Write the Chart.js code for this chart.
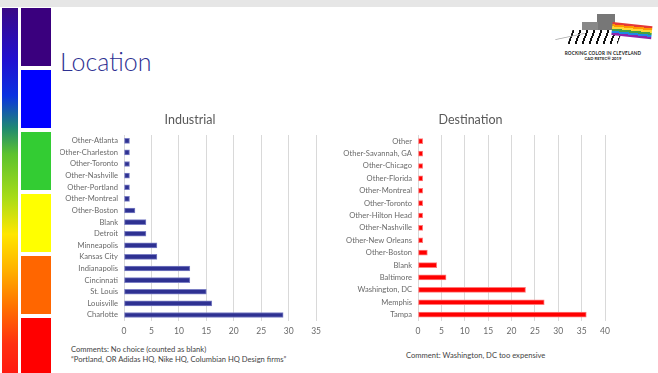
<!DOCTYPE html>
<html lang="en">
<head>
  <meta charset="UTF-8" />
  <title>Location</title>
  <script src="https://cdn.jsdelivr.net/npm/chart.js"></script>
  <style>
    body { margin: 0; width: 658px; height: 373px; background: #fff; overflow: hidden; position: relative; font-family: Lato, "Open Sans", sans-serif; }
    .topbar { position: absolute; left: 0; top: 0; width: 658px; height: 7px; background: #e6e6e6; }
    .strip {
      position: absolute; left: 2px; top: 8px; width: 16px; height: 365px;
      background: linear-gradient(180deg, #3a0a86 0%, #2010d0 14%, #0a32e0 24%, #1f8a70 33%, #5cc22e 40%, #a8dc18 52%, #ffe600 62%, #ffb000 72%, #ff7000 82%, #ff3010 92%, #ff1a10 100%);
    }
    .block { position: absolute; left: 21px; width: 30px; }
    .title { position: absolute; left: 60px; top: 46px; font-size: 25px; font-weight: 300; color: #2e3192; }
    .chartbox { position: absolute; }
    .note { position: absolute; font-size: 7.6px; color: #444; line-height: 10px; white-space: nowrap; }
    .logo div { position: absolute; }
  </style>
</head>
<body>
  <div class="topbar"></div>
  <div class="strip"></div>
  <div class="block" style="top:8px;height:58px;background:#3a007e"></div>
  <div class="block" style="top:70px;height:58px;background:#0000ff"></div>
  <div class="block" style="top:132px;height:58px;background:#33cc33"></div>
  <div class="block" style="top:194px;height:58px;background:#ffff00"></div>
  <div class="block" style="top:256px;height:58px;background:#ff6600"></div>
  <div class="block" style="top:318px;height:55px;background:#ff0000"></div>

  <div class="title">Location</div>

  <!-- logo -->
  <div class="logo">
    <div style="left:597px;top:14px;width:18px;height:18px;background:#777"></div>
    <div style="left:582px;top:22px;width:16px;height:10px;background:#888"></div>
    <div style="left:570px;top:30px;width:50px;height:14px;background:repeating-linear-gradient(90deg,#111 0 2px,#fff 2px 7px);transform:skewX(-20deg)"></div>
    <div style="left:555px;top:36px;width:30px;height:1px;background:#aaa;transform:rotate(-12deg)"></div>
    <div style="left:612px;top:22px;width:40px;height:13px;background:linear-gradient(180deg,#e53935 0 17%,#ff9800 17% 33%,#fdd835 33% 50%,#43a047 50% 67%,#1e88e5 67% 83%,#8e24aa 83%);transform:rotate(6deg);transform-origin:left center"></div>
    <div style="left:560px;top:50px;width:86px;text-align:center;font-size:4.6px;font-weight:bold;color:#222;letter-spacing:0.2px">ROCKING COLOR IN CLEVELAND</div>
    <div style="left:560px;top:56px;width:86px;text-align:center;font-size:4.2px;font-weight:bold;color:#222">CAD RETEC® 2019</div>
  </div>

  <div class="chartbox" style="left:60px;top:108px;width:266px;height:233px"><canvas id="industrialChart"></canvas></div>
  <div class="chartbox" style="left:336px;top:108px;width:284px;height:233px"><canvas id="destinationChart"></canvas></div>

  <div class="note" style="left:71px;top:344px">Comments: No choice (counted as blank)<br>“Portland, OR Adidas HQ, Nike HQ, Columbian HQ Design firms”</div>
  <div class="note" style="left:406px;top:350px">Comment: Washington, DC too expensive</div>

  <script>
    // Industrial
    const industrialLabels = ['Other-Atlanta', 'Other-Charleston', 'Other-Toronto', 'Other-Nashville', 'Other-Portland', 'Other-Montreal', 'Other-Boston', 'Blank', 'Detroit', 'Minneapolis', 'Kansas City', 'Indianapolis', 'Cincinnati', 'St. Louis', 'Louisville', 'Charlotte'];
    const industrialValues = [1, 1, 1, 1, 1, 1, 2, 4, 4, 6, 6, 12, 12, 15, 16, 29];
    const industrialTicks = [0, 5, 10, 15, 20, 25, 30, 35];

    // Destination
    const destinationLabels = ['Other', 'Other-Savannah, GA', 'Other-Chicago', 'Other-Florida', 'Other-Montreal', 'Other-Toronto', 'Other-Hilton Head', 'Other-Nashville', 'Other-New Orleans', 'Other-Boston', 'Blank', 'Baltimore', 'Washington, DC', 'Memphis', 'Tampa'];
    const destinationValues = [1, 1, 1, 1, 1, 1, 1, 1, 1, 2, 4, 6, 23, 27, 36];
    const destinationTicks = [0, 5, 10, 15, 20, 25, 30, 35, 40];

    const labelColor = '#6a6a6a';
    const fontFamily = 'Lato, "Open Sans", sans-serif';

    function makeChart(id, title, labels, values, ticks, fill, edge, axisWidth, padRight) {
      new Chart(document.getElementById(id), {
        type: 'bar',
        data: {
          labels: labels,
          datasets: [{
            data: values,
            backgroundColor: fill,
            borderColor: edge,
            borderWidth: 1,
            borderSkipped: false,
            barThickness: 5
          }]
        },
        options: {
          indexAxis: 'y',
          responsive: true,
          maintainAspectRatio: false,
          animation: false,
          layout: { padding: { left: 0, right: padRight, top: 0, bottom: 0 } },
          plugins: {
            legend: { display: false },
            tooltip: { enabled: false },
            title: {
              display: true,
              text: title,
              color: '#595959',
              font: { family: fontFamily, size: 12.5, weight: 'normal' },
              padding: { top: 4, bottom: 8 }
            }
          },
          scales: {
            x: {
              min: ticks[0],
              max: ticks[ticks.length - 1],
              afterBuildTicks: s => { s.ticks = ticks.map(v => ({ value: v })); },
              grid: { color: '#d9d9d9', drawTicks: false },
              border: { display: false },
              ticks: { color: labelColor, padding: 5, font: { family: fontFamily, size: 8.5 } }
            },
            y: {
              grid: { display: false, drawTicks: false },
              border: { display: false },
              afterFit: s => { s.width = axisWidth; },
              ticks: { color: labelColor, padding: 6, font: { family: fontFamily, size: 7.6 }, autoSkip: false }
            }
          }
        }
      });
    }

    makeChart('industrialChart', 'Industrial', industrialLabels, industrialValues, industrialTicks, '#2e3192', '#7b7fc4', 64, 6);
    makeChart('destinationChart', 'Destination', destinationLabels, destinationValues, destinationTicks, '#ff0000', '#ff7a7a', 82, 15);
  </script>
</body>
</html>
